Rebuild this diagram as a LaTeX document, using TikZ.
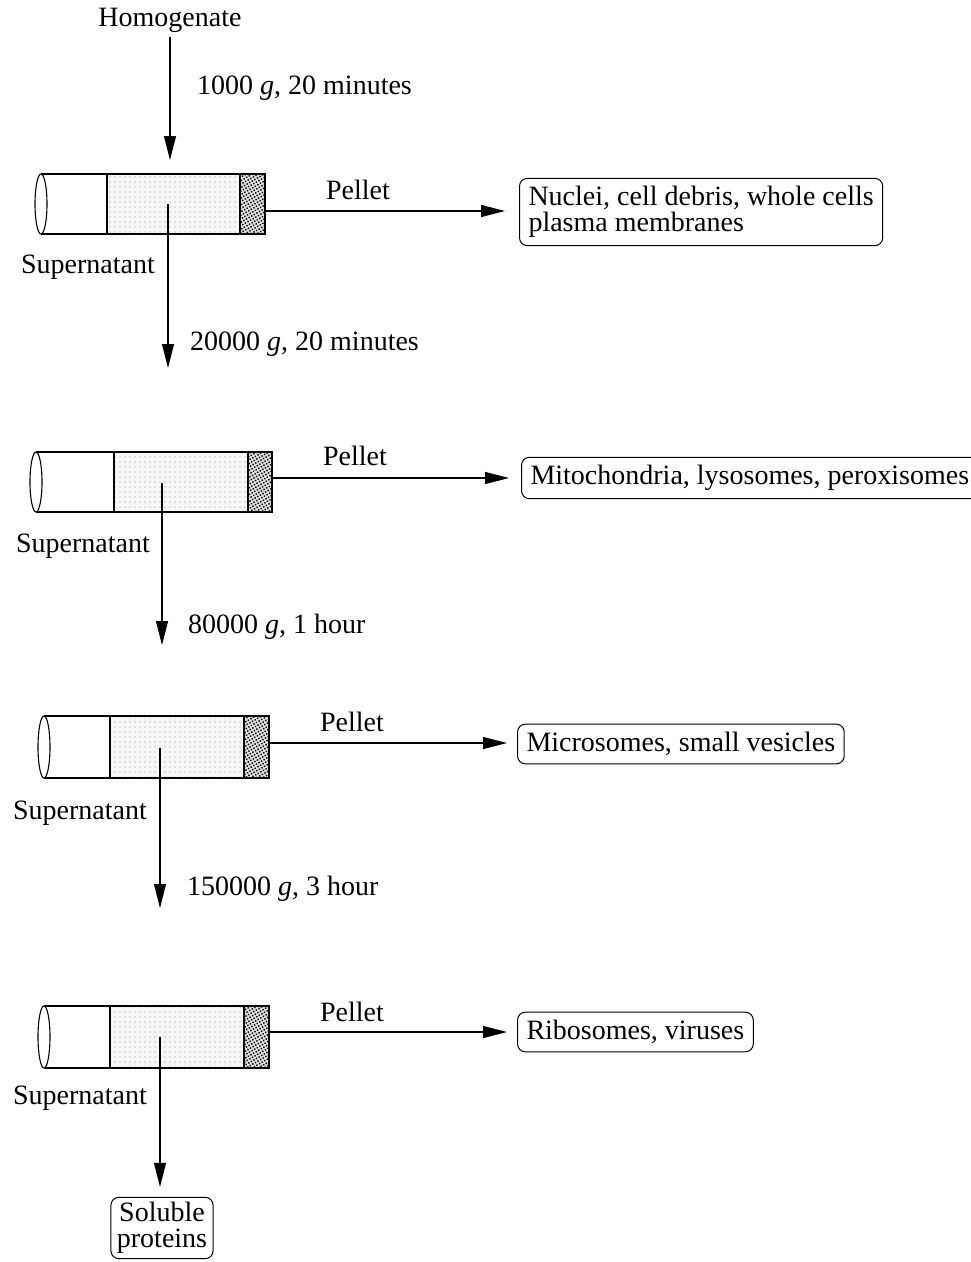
\documentclass[tikz,border=0pt]{standalone}
\usepackage{fontspec}
\setmainfont{Liberation Serif}
\usetikzlibrary{arrows.meta,patterns.meta}
\newcommand\drawtube[7]{% #1 ellipse cx, #2 top, #3 bottom, #4 separator, #5 pellet start, #6 right end, #7 half height
  \fill[gray!6] (#4,#2) rectangle (#5,#3);
  \fill[pattern={Dots[radius=0.55pt, distance=5pt]}, pattern color=gray!85] (#4,#2) rectangle (#5,#3);
  \fill[gray!25] (#5,#2) rectangle (#6,#3);
  \fill[pattern={Dots[radius=1pt, distance=3pt, angle=30]}, pattern color=black] (#5,#2) rectangle (#6,#3);
  \draw[tubeline] (#1,#2) -- (#6,#2) -- (#6,#3) -- (#1,#3);
  \draw[tubeline] (#4,#2) -- (#4,#3);
  \draw[tubeline] (#5,#2) -- (#5,#3);
  \draw[tubeline, fill=white] (#1,{(#2+#3)/2}) ellipse [x radius=6pt, y radius=#7];
}
\begin{document}
\begin{tikzpicture}[x=1pt,y=-1pt,
  font=\fontsize{28}{28}\selectfont,
  lbl/.style={inner sep=0pt},
  result/.style={draw, line width=1pt, rounded corners=8pt, inner xsep=9pt, inner ysep=8pt, align=left, font=\fontsize{28}{26}\selectfont},
  flow/.style={draw, line width=1.1pt, -{Triangle[length=24pt,width=12pt]}},
  tubeline/.style={line width=1.1pt}]
\useasboundingbox (0,0) rectangle (971,1262);

% ---------- stage 1
\node[lbl] (hom) at (170,20) {Homogenate};
\coordinate (t1in) at (170,160);
\draw[flow, shorten <=5pt] (hom) -- (t1in);
\node[lbl, anchor=west] (s1) at (197,88) {1000 \textit{g}, 20 minutes};
\drawtube{41}{174}{234}{107}{240}{265}{30pt}
\coordinate (t1r) at (265,211);
\coordinate (t1c) at (168,204);
\node[lbl] (pel1) at (358,190) {Pellet};
\node[result, anchor=west] (r1) at (519,212) {Nuclei, cell debris, whole cells\\plasma membranes};
\draw[flow, shorten >=14pt] (t1r) -- (t1r -| r1.west);
\node[lbl] (sup1) at (88,267) {Supernatant};
\coordinate (t2in) at (168,368);
\draw[flow] (t1c) -- (t2in);
\node[lbl, anchor=west] (s2) at (190,344) {20000 \textit{g}, 20 minutes};

% ---------- stage 2
\drawtube{36}{452}{512}{114}{248}{272}{30pt}
\coordinate (t2r) at (272,478);
\coordinate (t2c) at (162,483);
\node[lbl] (pel2) at (355,456) {Pellet};
\node[result, anchor=west] (r2) at (521,478) {Mitochondria, lysosomes, peroxisomes};
\draw[flow, shorten >=12pt] (t2r) -- (t2r -| r2.west);
\node[lbl] (sup2) at (83,546) {Supernatant};
\coordinate (t3in) at (162,645);
\draw[flow] (t2c) -- (t3in);
\node[lbl, anchor=west] (s3) at (188,627) {80000 \textit{g}, 1 hour};

% ---------- stage 3
\drawtube{44}{716}{778}{110}{244}{269}{31pt}
\coordinate (t3r) at (269,743);
\coordinate (t3c) at (160,748);
\node[lbl] (pel3) at (352,722) {Pellet};
\node[result, anchor=west] (r3) at (517,744) {Microsomes, small vesicles};
\draw[flow, shorten >=10pt] (t3r) -- (t3r -| r3.west);
\node[lbl] (sup3) at (80,813) {Supernatant};
\coordinate (t4in) at (160,908);
\draw[flow] (t3c) -- (t4in);
\node[lbl, anchor=west] (s4) at (187,889) {150000 \textit{g}, 3 hour};

% ---------- stage 4
\drawtube{44}{1006}{1068}{110}{244}{269}{31pt}
\coordinate (t4r) at (269,1032);
\coordinate (t4c) at (160,1037);
\node[lbl] (pel4) at (352,1012) {Pellet};
\node[result, anchor=west] (r4) at (517,1032) {Ribosomes, viruses};
\draw[flow, shorten >=10pt] (t4r) -- (t4r -| r4.west);
\node[lbl] (sup4) at (80,1098) {Supernatant};
\node[result, align=center, inner xsep=6pt, inner ysep=5pt] (sol) at (162,1228) {Soluble\\proteins};
\draw[flow, shorten >=10pt] (t4c) -- (t4c |- sol.north);
\end{tikzpicture}
\end{document}
